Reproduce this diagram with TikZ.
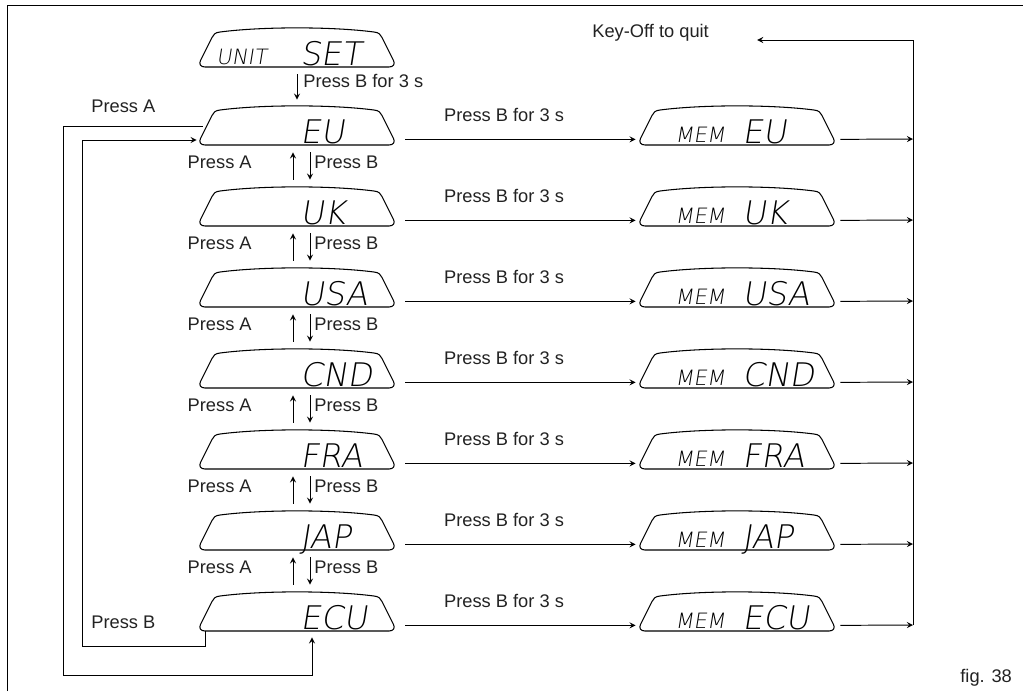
\documentclass[tikz,border=0pt]{standalone}
\usepackage{fontspec}
\setsansfont{Liberation Sans}
\newfontfamily\lcdfont[FakeSlant=0.16]{DejaVu Sans ExtraLight}
\definecolor{manualfg}{HTML}{222222}

\begin{document}
\begin{tikzpicture}[x=0.02cm,y=-0.02cm,>=stealth,font=\fontsize{10.4}{12}\selectfont\sffamily]
  \tikzstyle{lbl}=[font=\fontsize{10.4}{12}\selectfont\sffamily, text=manualfg, inner sep=0pt]
  \tikzstyle{lcd}=[inner sep=0pt, minimum width=3.88cm, minimum height=0.78cm]
  \tikzstyle{lcdline}=[draw=black, line width=0.6pt, line join=round]
  \tikzstyle{bigseg}=[font=\lcdfont\fontsize{18.5}{20}\selectfont, text=black, inner sep=0pt, anchor=base west]
  \tikzstyle{smallseg}=[font=\lcdfont\fontsize{12}{13}\selectfont, text=black, inner sep=0pt, anchor=base west]
  \tikzstyle{arrow}=[->, line width=0.55pt, draw=black]
  \tikzstyle{wire}=[line width=0.55pt, draw=black]
  \tikzset{lcdframe/.pic={
    \draw[lcdline] (-92,19.5) -- (92,19.5) .. controls (97,19.5) and (98,16) .. (96.5,13)
      -- (85,-10) .. controls (83.5,-13) and (82,-15) .. (77,-15.5)
      .. controls (35,-21) and (-35,-21) .. (-77,-15.5)
      .. controls (-82,-15) and (-83.5,-13) .. (-85,-10)
      -- (-96.5,13) .. controls (-98,16) and (-97,19.5) .. (-92,19.5) -- cycle;}}

  \path[use as bounding box] (0,0) rectangle (1023,691);
  \draw[wire] (7,691) -- (7,5) -- (1023,5);

  % start display
  \node[lcd] (unit) at (297,47.5) {};
  \pic at (unit.center) {lcdframe};
  \node[smallseg] (tunit) at ([shift={(-81,16.5)}]unit.center) {UNIT};
  \node[bigseg] (tset) at ([shift={(3,17.5)}]unit.center) {SET};

  \foreach \nm/\txt/\i in {eu/EU/0,uk/UK/1,usa/USA/2,cnd/CND/3,fra/FRA/4,jap/JAP/5,ecu/ECU/6} {
    \pgfmathsetmacro\ry{139+81*\i}
    \node[lcd] (\nm) at (297,\ry-13.5) {};
    \pic at (\nm.center) {lcdframe};
    \node[bigseg] (t\nm) at ([shift={(3,17.5)}]\nm.center) {\txt};
    \node[lcd] (m\nm) at (737,\ry-13.5) {};
    \pic at (m\nm.center) {lcdframe};
    \node[smallseg] (mm\nm) at ([shift={(-62,16.5)}]m\nm.center) {MEM};
    \node[bigseg] (mt\nm) at ([shift={(5,17.5)}]m\nm.center) {\txt};
    \coordinate (bus\nm) at (913,\ry);
    \node[lbl] (p\nm) at (504,\ry-24) {Press B for 3 s};
    \draw[arrow] ([shift={(11,-6)}]\nm.south east) -- ([shift={(-4,-6)}]m\nm.south west);
    \draw[arrow] ([shift={(6,-6)}]m\nm.south east) -- (bus\nm);
  }

  \foreach \p/\n in {eu/uk,uk/usa,usa/cnd,cnd/fra,fra/jap,jap/ecu} {
    \draw[arrow] ([shift={(-4,-7)}]\n.north) -- ([shift={(-4,7)}]\p.south);
    \draw[arrow] ([shift={(13,7)}]\p.south) -- ([shift={(13,-7)}]\n.north);
    \node[lbl, anchor=east] (pa\p) at ([shift={(-45,16.5)}]\p.south) {Press A};
    \node[lbl, anchor=west] (pb\p) at ([shift={(17,16.5)}]\p.south) {Press B};
  }

  \draw[arrow] ([shift={(0,7)}]unit.south) -- ([shift={(0,-6)}]eu.north);
  \node[lbl, anchor=west] (punit) at (303,81) {Press B for 3 s};

  % wrap-around loops
  \node[lbl, anchor=west] (pressa) at (91,106) {Press A};
  \node[lbl, anchor=west] (pressb) at (91,622) {Press B};
  \coordinate (outer) at (63,675);
  \coordinate (inner) at (82,646);
  \draw[arrow] ([shift={(3,0.5)}]eu.west) -| (outer) -| ([shift={(15,6)}]ecu.south);
  \draw[arrow] ([shift={(6,0)}]ecu.south west) |- (inner) |- ([shift={(-3,14.5)}]eu.west);

  % quit bus
  \node[lbl, anchor=west] (keyoff) at (592,33) {Key-Off to quit};
  \coordinate (qtop) at (913,40);
  \draw[wire] (busecu) -- (qtop);
  \draw[arrow] (qtop) -- ([shift={(48,7)}]keyoff.east);

  \node[lbl, anchor=west] (fig) at (960,678) {fig. 38};
\end{tikzpicture}
\end{document}
